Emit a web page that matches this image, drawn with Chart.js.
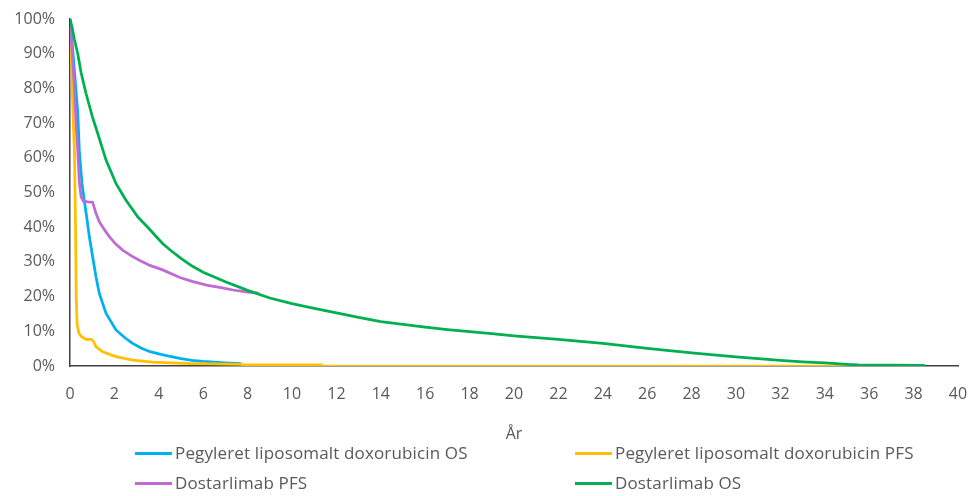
<!DOCTYPE html>
<html>
<head>
<meta charset="utf-8">
<script src="https://cdn.jsdelivr.net/npm/chart.js@4.4.1/dist/chart.umd.min.js"></script>
<style>
  html, body { margin: 0; padding: 0; background: #fff; }
  #wrap { position: relative; width: 974px; height: 496px; }
  #c { position: absolute; left: 0; top: 0; }
  .leg { position: absolute; font-family: "Open Sans", sans-serif; font-size: 17px; letter-spacing: 0.15px; color: #595959; white-space: nowrap; line-height: 20px; }
  .leg span.sw { display: inline-block; width: 37px; height: 3px; vertical-align: middle; margin-right: 3px; position: relative; top: -1px; }
</style>
</head>
<body>
<div id="wrap">
  <canvas id="c" width="974" height="496"></canvas>
  <div id="legend"></div>
</div>
<script>
// Series names
const seriesNames = [
  "Pegyleret liposomalt doxorubicin OS",
  "Pegyleret liposomalt doxorubicin PFS",
  "Dostarlimab PFS",
  "Dostarlimab OS"
];
const seriesColors = ["#00B0F0", "#FFC000", "#C06BD3", "#00B050"];

// Years (x) and survival % (y) for each series
const pldOsYears = [0, 0.1, 0.2, 0.3, 0.35, 0.42, 0.54, 0.64, 0.75, 0.87, 1.02, 1.17, 1.32, 1.62, 2.07, 2.5, 2.82, 3.2, 3.57, 4, 4.4, 5, 5.5, 6, 6.5, 7, 7.7];
const pldOsValues = [100, 93, 85, 77, 73, 62, 52.6, 47.8, 43, 37.3, 31.5, 25.7, 20.9, 15.2, 10.4, 8, 6.5, 5.2, 4.2, 3.5, 2.9, 2.1, 1.6, 1.3, 1.1, 0.9, 0.7];

const pldPfsYears = [0, 0.05, 0.1, 0.15, 0.2, 0.25, 0.28, 0.32, 0.4, 0.5, 0.72, 0.95, 1.05, 1.17, 1.47, 2.07, 2.82, 3.72, 4.5, 5.5, 6.5, 7.7, 7.8, 11.3, 11.4, 35.5];
const pldPfsValues = [100, 92, 80, 70, 62, 40, 20, 12, 9.5, 8.5, 7.7, 7.7, 7.2, 5.6, 4.1, 2.7, 1.7, 1.1, 0.9, 0.7, 0.6, 0.5, 0.3, 0.3, 0, 0];

const dosPfsYears = [0, 0.1, 0.2, 0.27, 0.35, 0.42, 0.5, 0.6, 0.8, 1.02, 1.17, 1.32, 1.55, 1.77, 2.05, 2.37, 2.75, 3.12, 3.6, 4.17, 4.95, 5.5, 6.15, 6.8, 7.35, 8, 8.5];
const dosPfsValues = [100, 90, 80, 70, 62, 53, 48.8, 47.5, 47.3, 47.2, 44, 41.6, 39.3, 37.3, 35.2, 33.4, 31.8, 30.5, 29, 27.7, 25.5, 24.4, 23.3, 22.6, 21.9, 21.3, 21];

const dosOsYears = [0, 0.1, 0.2, 0.35, 0.5, 0.72, 1, 1.25, 1.62, 2.07, 2.5, 3.05, 3.5, 4.17, 4.5, 5, 5.5, 6, 7, 8, 9, 10, 11, 12, 13, 14, 15, 16, 17, 18, 19, 20, 21, 22, 23, 24, 25, 26, 27, 28, 29, 30, 31, 32, 33, 34, 35, 35.5, 38.5];
const dosOsValues = [100, 97.5, 94, 90, 84.5, 78.6, 72, 67, 59.4, 52.6, 48, 43, 40, 35.3, 33.5, 31, 28.8, 27, 24.3, 21.8, 19.6, 18, 16.6, 15.3, 14, 12.8, 12, 11.2, 10.5, 9.9, 9.3, 8.7, 8.2, 7.7, 7.1, 6.5, 5.8, 5.1, 4.4, 3.8, 3.2, 2.6, 2.1, 1.6, 1.2, 0.9, 0.5, 0.3, 0.2];

// Axis ticks
const xTickValues = [0, 2, 4, 6, 8, 10, 12, 14, 16, 18, 20, 22, 24, 26, 28, 30, 32, 34, 36, 38, 40];
const yTickValues = [0, 10, 20, 30, 40, 50, 60, 70, 80, 90, 100];
const xAxisTitle = "År";

function pts(xs, ys) { return xs.map((x, i) => ({ x: x, y: ys[i] })); }
const seriesData = [
  pts(pldOsYears, pldOsValues),
  pts(pldPfsYears, pldPfsValues),
  pts(dosPfsYears, dosPfsValues),
  pts(dosOsYears, dosOsValues)
];

const FONT = "'Open Sans', sans-serif";
const TICK_COLOR = "#595959";

const chart = new Chart(document.getElementById('c'), {
  type: 'line',
  data: {
    datasets: seriesData.map((d, i) => ({
      label: seriesNames[i],
      data: d,
      borderColor: seriesColors[i],
      backgroundColor: seriesColors[i],
      borderWidth: 2.75,
      pointRadius: 0,
      tension: 0,
      fill: false,
      order: 4 - i
    }))
  },
  options: {
    responsive: false,
    animation: false,
    layout: { padding: { top: 19, right: 16, left: 0, bottom: 50 } },
    plugins: {
      legend: { display: false },
      tooltip: { enabled: false }
    },
    scales: {
      x: {
        type: 'linear',
        min: 0, max: 40,
        afterBuildTicks: (s) => { s.ticks = xTickValues.map(v => ({ value: v })); },
        afterFit: (s) => { s.height = 80; s.paddingLeft = 0; s.paddingRight = 0; },
        grid: { display: false, drawTicks: false },
        border: { display: true, color: '#404040', width: 1.5 },
        ticks: { color: TICK_COLOR, font: { family: FONT, size: 16 }, padding: 19, maxRotation: 0, autoSkip: false },
        title: { display: true, text: xAxisTitle, color: TICK_COLOR, font: { family: FONT, size: 16 }, padding: { top: 0, bottom: 2 } }
      },
      y: {
        min: 0, max: 100,
        afterBuildTicks: (s) => { s.ticks = yTickValues.map(v => ({ value: v })); },
        afterFit: (s) => { s.width = 70; s.paddingTop = 0; s.paddingBottom = 0; },
        grid: { display: false, drawTicks: false },
        border: { display: true, color: '#404040', width: 1.5 },
        ticks: { color: TICK_COLOR, font: { family: FONT, size: 16 }, padding: 15, callback: (v) => v + '%' }
      }
    }
  }
});

// HTML legend in a 2-column grid (Excel-style)
const legendPos = [
  { left: 135, top: 443 },
  { left: 575, top: 443 },
  { left: 135, top: 473 },
  { left: 575, top: 473 }
];
const legendEl = document.getElementById('legend');
seriesNames.forEach((name, i) => {
  const d = document.createElement('div');
  d.className = 'leg';
  d.style.left = legendPos[i].left + 'px';
  d.style.top = legendPos[i].top + 'px';
  d.innerHTML = '<span class="sw" style="background:' + seriesColors[i] + '"></span>';
  d.appendChild(document.createTextNode(name));
  legendEl.appendChild(d);
});
</script>
</body>
</html>
